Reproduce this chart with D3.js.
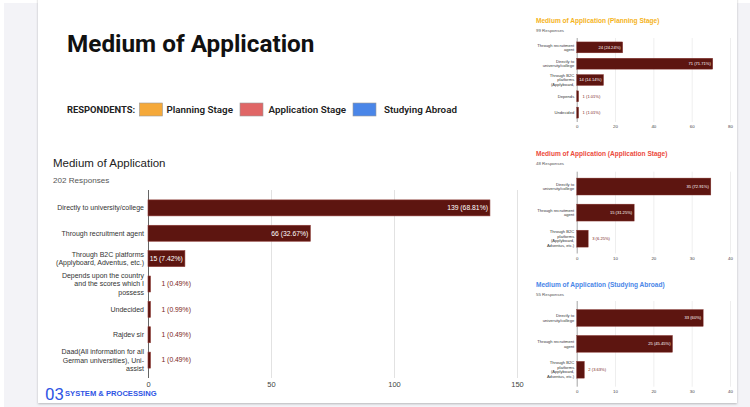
<!DOCTYPE html>
<html>
<head>
<meta charset="utf-8">
<script src="https://cdn.jsdelivr.net/npm/d3@7"></script>
<style>
  html, body { margin: 0; padding: 0; background: #ffffff; }
  svg { display: block; }
</style>
</head>
<body>
<svg id="chart" width="750" height="407"></svg>
<script>
// ---- Overall survey (202 responses) ----
const overallCategories = [
  ["Directly to university/college"],
  ["Through recruitment agent"],
  ["Through B2C platforms", "(Applyboard, Adventus, etc.)"],
  ["Depends upon the country", "and the scores which I", "possess"],
  ["Undecided"],
  ["Rajdev sir"],
  ["Daad(All information for all", "German universities), Uni-", "assist"]
];
const overallCounts = [139, 66, 15, 1, 1, 1, 1];
const overallPercents = ["68.81%", "32.67%", "7.42%", "0.49%", "0.99%", "0.49%", "0.49%"];
const overallTicks = [0, 50, 100, 150];

// ---- Planning stage (99 responses) ----
const planningCategories = [
  ["Through recruitment", "agent"],
  ["Directly to", "university/college"],
  ["Through B2C", "platforms", "(Applyboard,"],
  ["Depends"],
  ["Undecided"]
];
const planningCounts = [24, 71, 14, 1, 1];
const planningPercents = ["24.24%", "71.71%", "14.14%", "1.01%", "1.01%"];
const planningTicks = [0, 20, 40, 60, 80];

// ---- Application stage (48 responses) ----
const applicationCategories = [
  ["Directly to", "university/college"],
  ["Through recruitment", "agent"],
  ["Through B2C", "platforms", "(Applyboard,", "Adventus, etc.)"]
];
const applicationCounts = [35, 15, 3];
const applicationPercents = ["72.91%", "31.25%", "6.25%"];
const applicationTicks = [0, 10, 20, 30, 40];

// ---- Studying abroad (55 responses) ----
const abroadCategories = [
  ["Directly to", "university/college"],
  ["Through recruitment", "agent"],
  ["Through B2C", "platforms", "(Applyboard,", "Adventus, etc.)"]
];
const abroadCounts = [33, 25, 2];
const abroadPercents = ["60%", "45.45%", "3.63%"];
const abroadTicks = [0, 10, 20, 30, 40];

// ---- Legend ----
const legendLabels = ["Planning Stage", "Application Stage", "Studying Abroad"];
const legendColors = ["#f5a93a", "#e06666", "#4a86e8"];

const BAR = "#5d1510";
const SANS = "'Liberation Sans', Arial, sans-serif";

const svg = d3.select("#chart");

// page backdrop and slide
svg.append("rect").attr("x", 4).attr("y", 3).attr("width", 746).attr("height", 404).attr("fill", "#f3f3f7");
const defs = svg.append("defs");
const f = defs.append("filter").attr("id", "shadow").attr("x", "-5%").attr("y", "-5%").attr("width", "110%").attr("height", "110%");
f.append("feDropShadow").attr("dx", 0).attr("dy", 1).attr("stdDeviation", 1.2).attr("flood-color", "#000").attr("flood-opacity", 0.25);
svg.append("rect").attr("x", 38).attr("y", -5).attr("width", 699).attr("height", 408)
  .attr("fill", "#ffffff").attr("filter", "url(#shadow)");

// heading
svg.append("text").attr("x", 67).attr("y", 52)
  .attr("font-family", "Roboto, sans-serif").attr("font-weight", 700).attr("font-size", 24.3)
  .attr("fill", "#111").text("Medium of Application");

// legend
const lg = svg.append("g").attr("font-family", "Roboto, sans-serif").attr("font-size", 9.8).attr("fill", "#222");
lg.append("text").attr("x", 67).attr("y", 113).attr("font-weight", 700).attr("font-size", 9.4).text("RESPONDENTS:");
const swatchX = [139.5, 240, 353];
const textX = [166.5, 268.5, 384];
legendLabels.forEach((lab, i) => {
  lg.append("rect").attr("x", swatchX[i]).attr("y", 103).attr("width", 23).attr("height", 13)
    .attr("fill", legendColors[i]).attr("stroke", "#999").attr("stroke-width", 0.6);
  lg.append("text").attr("x", textX[i]).attr("y", 113).attr("font-weight", 600).text(lab);
});

// footer mark
svg.append("text").attr("x", 45).attr("y", 399.5)
  .attr("font-family", "Roboto, sans-serif").attr("font-weight", 400).attr("font-size", 17)
  .attr("fill", "#2f55e4").text("03");
svg.append("text").attr("x", 65).attr("y", 396)
  .attr("font-family", SANS).attr("font-weight", 700).attr("font-size", 7.6)
  .attr("fill", "#2f55e4").text("SYSTEM & PROCESSING");

// generic horizontal bar chart
function barChart(opt) {
  const g = svg.append("g");
  const x = d3.scaleLinear().domain(opt.domain).range([opt.x0, opt.x1]);
  const y = d3.scaleBand().domain(d3.range(opt.counts.length))
    .range([opt.yTop, opt.yBottom]).paddingInner(opt.padIn).paddingOuter(opt.padOut);

  // title + response count
  g.append("text").attr("x", opt.titleX).attr("y", opt.titleY)
    .attr("font-family", SANS).attr("font-size", opt.titleSize).attr("font-weight", opt.titleWeight)
    .attr("fill", opt.titleColor).text(opt.title);
  g.append("text").attr("x", opt.titleX).attr("y", opt.subY)
    .attr("font-family", SANS).attr("font-size", opt.subSize).attr("fill", "#555").text(opt.sub);

  // gridlines and tick labels via d3 axis
  const axis = d3.axisBottom(x).tickValues(opt.ticks).tickSize(-(opt.yBottom - opt.yTop)).tickPadding(opt.tickPad);
  const ax = g.append("g").attr("transform", `translate(0,${opt.yBottom})`).call(axis);
  ax.select(".domain").remove();
  ax.selectAll(".tick line").attr("stroke", "#e2e2e2").attr("stroke-width", opt.gridW);
  ax.selectAll(".tick text").attr("font-family", SANS).attr("font-size", opt.tickSize).attr("fill", "#444");
  ax.selectAll(".tick").filter(d => d === 0).select("line").attr("stroke", "#666");

  // bars
  g.selectAll("rect.bar").data(opt.counts).join("rect").attr("class", "bar")
    .attr("x", x(0)).attr("y", (d, i) => y(i))
    .attr("width", d => x(d) - x(0)).attr("height", y.bandwidth())
    .attr("fill", BAR).attr("stroke", "#8c3b36").attr("stroke-width", opt.barStroke);

  // category labels (multi-line, right aligned)
  opt.categories.forEach((lines, i) => {
    const cy = y(i) + y.bandwidth() / 2;
    const t = g.append("text").attr("text-anchor", "end")
      .attr("font-family", SANS).attr("font-size", opt.catSize).attr("fill", "#333");
    lines.forEach((ln, j) => {
      t.append("tspan").attr("x", opt.x0 - opt.catGap)
        .attr("y", cy + (j - (lines.length - 1) / 2) * opt.lineH + opt.catSize * 0.35)
        .text(ln);
    });
  });

  // value labels: inside when they fit, otherwise just past the bar end
  opt.counts.forEach((d, i) => {
    const label = `${d} (${opt.percents[i]})`;
    const cy = y(i) + y.bandwidth() / 2 + opt.valSize * 0.35;
    const t = g.append("text").attr("font-family", SANS).attr("font-size", opt.valSize).text(label);
    const w = t.node().getComputedTextLength();
    const bw = x(d) - x(0);
    if (w + opt.valPad + 1 < bw) {
      t.attr("x", x(d) - opt.valPad).attr("y", cy).attr("text-anchor", "end").attr("fill", "#fff");
    } else {
      t.attr("x", x(d) + opt.outGap).attr("y", cy).attr("fill", "#7a2420");
    }
  });
}

// main overall chart
barChart({
  title: "Medium of Application", sub: "202 Responses",
  titleX: 53, titleY: 166.5, subY: 183, titleSize: 11.5, titleWeight: 400, titleColor: "#222", subSize: 8.1,
  categories: overallCategories, counts: overallCounts, percents: overallPercents, ticks: overallTicks,
  domain: [0, 150], x0: 148, x1: 517, yTop: 190, yBottom: 378, padIn: 0.37, padOut: 0.39,
  tickSize: 7.5, tickPad: 4, gridW: 1, barStroke: 0.6,
  catSize: 7, catGap: 4, lineH: 8.3, valSize: 6.8, valPad: 2, outGap: 11
});

// planning stage
barChart({
  title: "Medium of Application (Planning Stage)", sub: "99 Responses",
  titleX: 536, titleY: 22.8, subY: 31.5, titleSize: 6.55, titleWeight: 700, titleColor: "#f5b31b", subSize: 4.4,
  categories: planningCategories, counts: planningCounts, percents: planningPercents, ticks: planningTicks,
  domain: [0, 80], x0: 576.7, x1: 730, yTop: 38, yBottom: 122, padIn: 0.33, padOut: 0.24,
  tickSize: 4.4, tickPad: 3, gridW: 0.6, barStroke: 0.4,
  catSize: 4.1, catGap: 2.5, lineH: 4.6, valSize: 4.1, valPad: 2, outGap: 4
});

// application stage
barChart({
  title: "Medium of Application (Application Stage)", sub: "48 Responses",
  titleX: 536, titleY: 155.8, subY: 164.8, titleSize: 6.55, titleWeight: 700, titleColor: "#ec4a3c", subSize: 4.4,
  categories: applicationCategories, counts: applicationCounts, percents: applicationPercents, ticks: applicationTicks,
  domain: [0, 40], x0: 576.7, x1: 730, yTop: 171.7, yBottom: 253.5, padIn: 0.35, padOut: 0.245,
  tickSize: 4.4, tickPad: 3, gridW: 0.6, barStroke: 0.4,
  catSize: 4.1, catGap: 2.5, lineH: 4.6, valSize: 4.1, valPad: 2, outGap: 4
});

// studying abroad
barChart({
  title: "Medium of Application (Studying Abroad)", sub: "55 Responses",
  titleX: 536, titleY: 286.8, subY: 295.5, titleSize: 6.55, titleWeight: 700, titleColor: "#4a86e8", subSize: 4.4,
  categories: abroadCategories, counts: abroadCounts, percents: abroadPercents, ticks: abroadTicks,
  domain: [0, 40], x0: 576.7, x1: 730, yTop: 301, yBottom: 386.7, padIn: 0.35, padOut: 0.33,
  tickSize: 4.4, tickPad: 3, gridW: 0.6, barStroke: 0.4,
  catSize: 4.1, catGap: 2.5, lineH: 4.6, valSize: 4.1, valPad: 2, outGap: 4
});
</script>
</body>
</html>
